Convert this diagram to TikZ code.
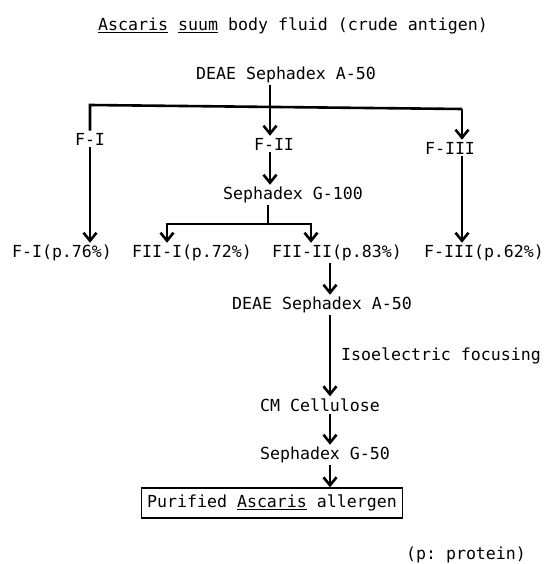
\documentclass[tikz,border=0pt]{standalone}
\usepackage{fontspec}
\newfontfamily\typefont{DejaVu Sans Mono}
\usetikzlibrary{arrows.meta}
\tikzset{
  txt/.style={font=\typefont\fontsize{16.6}{19}\selectfont\frenchspacing, inner sep=2pt},
  link/.style={line width=2.6pt},
  arrow/.style={link, -{Straight Barb[length=8pt,width=13pt]}},
  resultbox/.style={txt, draw, line width=1.3pt, minimum width=261pt, minimum height=30pt},
}
\begin{document}
\begin{tikzpicture}[x=1pt,y=-1pt]
  \useasboundingbox (0,0) rectangle (543,564);
  % crude antigen and first column
  \node[txt] (crude) at (293,26) {\underline{Ascaris} \underline{suum} body fluid (crude antigen)};
  \node[txt] (deae1) at (286,75) {DEAE Sephadex A-50};
  \node[txt] (fi) at (90,139) {F-I};
  \node[txt] (fii) at (274,144) {F-II};
  \node[txt] (fiii) at (450,148) {F-III};
  \coordinate (split) at (270,107);
  \coordinate (left) at (90,105);
  \coordinate (right) at (462,109);
  \draw[link] (deae1.south -| split) -- (split);
  \draw[arrow] (split) -- (split |- fii.north);
  \draw[link] (fi.north) -- (left) -- (right);
  \draw[arrow] (right) -- (right |- fiii.north);
  % gel filtration of F-II
  \node[txt] (g100) at (293,195) {Sephadex G-100};
  \draw[arrow] (split |- fii.south) -- (split |- g100.north);
  \node[txt] (fipct) at (62,253) {F-I(p.76\%)};
  \node[txt] (fiia) at (192,253) {FII-I(p.72\%)};
  \node[txt] (fiib) at (337,253) {FII-II(p.83\%)};
  \node[txt] (fiiipct) at (484,253) {F-III(p.62\%)};
  \coordinate (split2) at (268,224);
  \coordinate (forka) at (167,224);
  \coordinate (forkb) at (311,224);
  \draw[link] (g100.south -| split2) -- (split2);
  \draw[arrow] (split2) -- (forka) -- (forka |- fiia.north);
  \draw[arrow] (split2) -- (forkb) -- (forkb |- fiib.north);
  \draw[arrow] (fi.south) -- (fi.south |- fipct.north);
  \draw[arrow] (right |- fiii.south) -- (right |- fiiipct.north);
  % purification of FII-II
  \coordinate (spine) at (330,0);
  \node[txt] (deae2) at (322,305) {DEAE Sephadex A-50};
  \node[txt] (ief) at (441,356) {Isoelectric focusing};
  \node[txt] (cm) at (320,405) {CM Cellulose};
  \node[txt] (g50) at (325,455) {Sephadex G-50};
  \node[resultbox] (allergen) at (272,503) {Purified \underline{Ascaris} allergen};
  \node[txt] (note) at (466,555) {(p: protein)};
  \draw[arrow] (spine |- fiib.south) -- (spine |- deae2.north);
  \draw[arrow] (spine |- deae2.south) -- (spine |- cm.north);
  \draw[arrow] (spine |- cm.south) -- (spine |- g50.north);
  \draw[arrow] (spine |- g50.south) -- (spine |- allergen.north);
\end{tikzpicture}
\end{document}
